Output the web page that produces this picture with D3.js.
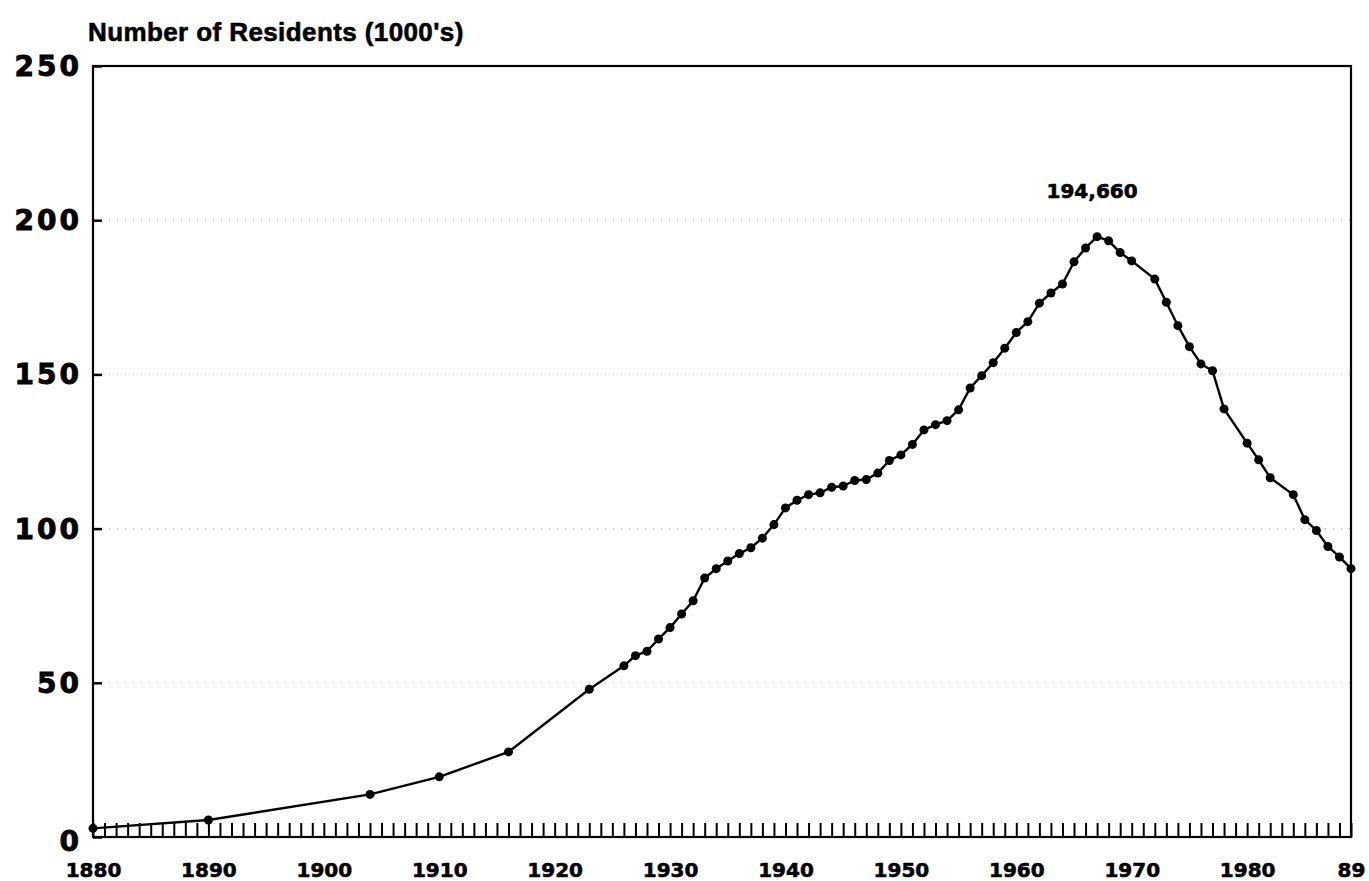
<!DOCTYPE html>
<html>
<head>
<meta charset="utf-8">
<script src="https://cdn.jsdelivr.net/npm/d3@7"></script>
<style>
  body { margin: 0; background: #fff; }
  svg { display: block; }
</style>
</head>
<body>
<svg id="chart" width="1369" height="881"></svg>
<script>
// data (thousands of residents)
const years = [1880, 1890, 1904, 1910, 1916, 1923, 1926, 1927, 1928, 1929,
  1930, 1931, 1932, 1933, 1934, 1935, 1936, 1937, 1938, 1939,
  1940, 1941, 1942, 1943, 1944, 1945, 1946, 1947, 1948, 1949,
  1950, 1951, 1952, 1953, 1954, 1955, 1956, 1957, 1958, 1959,
  1960, 1961, 1962, 1963, 1964, 1965, 1966, 1967, 1968, 1969,
  1970, 1972, 1973, 1974, 1975, 1976, 1977, 1978, 1980, 1981,
  1982, 1984, 1985, 1986, 1987, 1988, 1989];
const residents = [2.8, 5.5, 13.8, 19.5, 27.6, 47.9, 55.5, 58.8, 60.2, 64.2,
  67.9, 72.3, 76.6, 84.0, 87.0, 89.5, 91.9, 93.8, 96.9, 101.3,
  106.7, 109.2, 111.0, 111.6, 113.4, 113.8, 115.6, 115.9, 118.0, 122.1,
  123.9, 127.3, 132.0, 133.7, 135.0, 138.5, 145.6, 149.6, 153.8, 158.5,
  163.6, 167.1, 173.1, 176.4, 179.3, 186.5, 191.0, 194.66, 193.3, 189.5,
  186.8, 180.9, 173.4, 165.8, 159.0, 153.4, 151.2, 138.8, 127.7, 122.3,
  116.5, 111.0, 102.9, 99.4, 94.2, 90.8, 87.0];
const yTicks = [0, 50, 100, 150, 200, 250];
const xLabelYears = [1880, 1890, 1900, 1910, 1920, 1930, 1940, 1950, 1960, 1970, 1980, 1989];
const xLabels = ["1880", "1890", "1900", "1910", "1920", "1930", "1940", "1950", "1960", "1970", "1980", "89"];
const peak = {year: 1967, value: 194.66, label: "194,660"};
const title = "Number of Residents (1000's)";

const mLeft = 93, mRight = 1351, mTop = 66, mBottom = 837;
const font = "'DejaVu Sans', sans-serif";
const titleFont = "'Liberation Sans', Arial, sans-serif";

const svg = d3.select('#chart');
const data = years.map((y, i) => ({year: y, value: residents[i]}));

const x = d3.scaleLinear().domain([1880, 1989]).range([mLeft, mRight]);
const y = d3.scaleLinear().domain([0, 250]).range([mBottom, mTop]);

// faint dotted gridlines
svg.append('g')
  .selectAll('line')
  .data(yTicks.filter(d => d > 0 && d < 250))
  .join('line')
  .attr('x1', mLeft).attr('x2', mRight)
  .attr('y1', d => y(d)).attr('y2', d => y(d))
  .attr('stroke', '#aaa')
  .attr('stroke-width', 1)
  .attr('stroke-dasharray', '1,7');

// yearly minor ticks along the bottom
svg.append('g')
  .attr('transform', 'translate(0,' + mBottom + ')')
  .call(d3.axisBottom(x).tickValues(d3.range(1880, 1990)).tickSize(-14).tickFormat(''))
  .call(g => g.select('.domain').remove())
  .call(g => g.selectAll('line').attr('stroke', '#000').attr('stroke-width', 2));

// x labels
const xLab = svg.append('g')
  .attr('transform', 'translate(0,' + mBottom + ')')
  .call(d3.axisBottom(x).tickValues(xLabelYears).tickSize(0).tickPadding(26)
    .tickFormat((d, i) => xLabels[i]));
xLab.select('.domain').remove();
xLab.selectAll('text')
  .attr('font-family', font).attr('font-weight', 'bold').attr('font-size', 20)
  .attr('fill', '#000').attr('stroke', '#000').attr('stroke-width', 0.6);

// y axis ticks (inward) and labels
const yAx = svg.append('g')
  .attr('transform', 'translate(' + mLeft + ',0)')
  .call(d3.axisRight(y).tickValues(yTicks).tickSize(9).tickFormat(''));
yAx.select('.domain').remove();
yAx.selectAll('line').attr('stroke', '#000').attr('stroke-width', 2.5);

svg.append('g')
  .selectAll('text')
  .data(yTicks)
  .join('text')
  .attr('x', 82)
  .attr('y', d => y(d) + (d === 0 ? 14 : 10))
  .attr('text-anchor', 'end')
  .attr('font-family', font).attr('font-weight', 'bold').attr('font-size', 28)
  .attr('letter-spacing', 3)
  .attr('stroke', '#000').attr('stroke-width', 0.9)
  .text(d => d);

// frame
svg.append('rect')
  .attr('x', mLeft).attr('y', mTop)
  .attr('width', mRight - mLeft).attr('height', mBottom - mTop)
  .attr('fill', 'none').attr('stroke', '#000').attr('stroke-width', 2.2);

// series line
svg.append('path')
  .datum(data)
  .attr('fill', 'none')
  .attr('stroke', '#000')
  .attr('stroke-width', 2.4)
  .attr('d', d3.line().x(d => x(d.year)).y(d => y(d.value)));

svg.append('g')
  .selectAll('circle')
  .data(data)
  .join('circle')
  .attr('cx', d => x(d.year))
  .attr('cy', d => y(d.value))
  .attr('r', 4.5)
  .attr('fill', '#000');

// peak annotation
svg.append('text')
  .attr('x', x(peak.year) - 5)
  .attr('y', y(peak.value) - 39)
  .attr('text-anchor', 'middle')
  .attr('font-family', font).attr('font-weight', 'bold').attr('font-size', 20)
  .attr('stroke', '#000').attr('stroke-width', 0.6)
  .text(peak.label);

// title
svg.append('text')
  .attr('x', 88).attr('y', 41)
  .attr('font-family', titleFont).attr('font-weight', 'bold').attr('font-size', 26)
  .attr('letter-spacing', 0.4)
  .attr('stroke', '#000').attr('stroke-width', 0.6)
  .text(title);
</script>
</body>
</html>
